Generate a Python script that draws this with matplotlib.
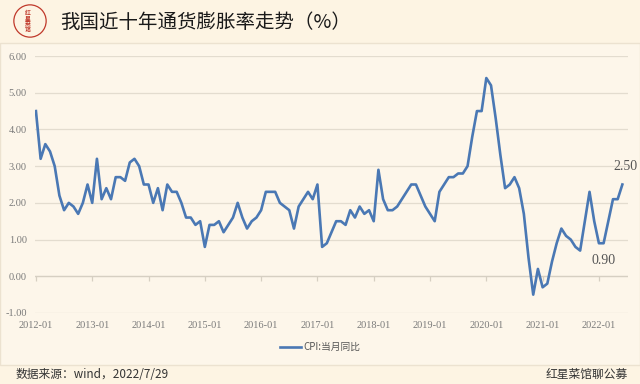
import matplotlib.pyplot as plt
from matplotlib.patches import Rectangle, Circle

plt.rcParams['font.family'] = ['Noto Sans CJK SC', 'DejaVu Sans']

# CPI 当月同比 2012-01 ~ 2022-06
cpi_2012 = [4.5, 3.2, 3.6, 3.4, 3.0, 2.2, 1.8, 2.0, 1.9, 1.7, 2.0, 2.5]
cpi_2013 = [2.0, 3.2, 2.1, 2.4, 2.1, 2.7, 2.7, 2.6, 3.1, 3.2, 3.0, 2.5]
cpi_2014 = [2.5, 2.0, 2.4, 1.8, 2.5, 2.3, 2.3, 2.0, 1.6, 1.6, 1.4, 1.5]
cpi_2015 = [0.8, 1.4, 1.4, 1.5, 1.2, 1.4, 1.6, 2.0, 1.6, 1.3, 1.5, 1.6]
cpi_2016 = [1.8, 2.3, 2.3, 2.3, 2.0, 1.9, 1.8, 1.3, 1.9, 2.1, 2.3, 2.1]
cpi_2017 = [2.5, 0.8, 0.9, 1.2, 1.5, 1.5, 1.4, 1.8, 1.6, 1.9, 1.7, 1.8]
cpi_2018 = [1.5, 2.9, 2.1, 1.8, 1.8, 1.9, 2.1, 2.3, 2.5, 2.5, 2.2, 1.9]
cpi_2019 = [1.7, 1.5, 2.3, 2.5, 2.7, 2.7, 2.8, 2.8, 3.0, 3.8, 4.5, 4.5]
cpi_2020 = [5.4, 5.2, 4.3, 3.3, 2.4, 2.5, 2.7, 2.4, 1.7, 0.5, -0.5, 0.2]
cpi_2021 = [-0.3, -0.2, 0.4, 0.9, 1.3, 1.1, 1.0, 0.8, 0.7, 1.5, 2.3, 1.5]
cpi_2022 = [0.9, 0.9, 1.5, 2.1, 2.1, 2.5]

cpi = (cpi_2012 + cpi_2013 + cpi_2014 + cpi_2015 + cpi_2016 + cpi_2017
       + cpi_2018 + cpi_2019 + cpi_2020 + cpi_2021 + cpi_2022)
months = list(range(len(cpi)))
tick_labels = [f'{y}-01' for y in range(2012, 2023)]
tick_pos = [12 * i for i in range(len(tick_labels))]

bg = '#fdf4e3'
panel = '#fdf6ea'
line_c = '#4a78b4'
grey = '#7a7a7a'

W, H = 640, 384
fig = plt.figure(figsize=(6.4, 3.84), dpi=100, facecolor=bg)

# 中间图表面板
fig.patches.append(Rectangle((0, 1 - 365 / H), 1, (365 - 43) / H, transform=fig.transFigure,
                             facecolor=panel, edgecolor='#ece2d0', lw=1, zorder=-5))

# 标题 + logo
lax = fig.add_axes([10 / W, 1 - 40 / H, 40 / W, 38 / H])
lax.set_xlim(-1, 1); lax.set_ylim(-1, 1); lax.set_aspect('equal'); lax.axis('off')
lax.add_patch(Circle((0, 0), 0.85, fill=False, ec='#c0392b', lw=0.9))
lax.text(-0.12, 0, '红\n星\n菜\n馆', color='#c0392b', fontsize=4.2, ha='center', va='center',
         fontweight='bold', linespacing=0.9)
fig.text(60 / W, 1 - 22 / H, '我国近十年通货膨胀率走势（%）', fontsize=14, va='center',
         ha='left', color='#1a1a1a')

# 主图
ax = fig.add_axes([35 / W, 1 - 313 / H, (628 - 35) / W, (313 - 56) / H])
ax.set_zorder(2)
ax.set_facecolor('none')
ax.plot(months, cpi, color=line_c, lw=1.9, zorder=3, label='CPI:当月同比')
ax.set_xlim(-0.2, 126.2)
ax.set_ylim(-1, 6)
ax.set_yticks(range(-1, 7))
ax.set_yticklabels([f'{v:.2f}' for v in range(-1, 7)], fontsize=7.5, color=grey,
                   family='Liberation Serif')
ax.grid(axis='y', color='#e3dccf', lw=0.9)
ax.set_axisbelow(True)
ax.axhline(0, color='#d6cfc2', lw=0.9, zorder=1)
ax.vlines(tick_pos, -0.12, 0, color='#d6cfc2', lw=0.9)
ax.set_xticks(tick_pos)
ax.set_xticklabels(tick_labels, fontsize=7.5, color=grey, family='Liberation Serif')
ax.tick_params(length=0, pad=6)
for s in ax.spines.values():
    s.set_visible(False)

ax.annotate(f'{cpi[-1]:.2f}', (months[-1], cpi[-1]), xytext=(2, 8), textcoords='offset points',
            ha='center', va='bottom', fontsize=10, color='#555555', family='Liberation Serif')
ax.annotate(f'{cpi_2022[0]:.2f}', (months[120], cpi_2022[0]), xytext=(3, -8),
            textcoords='offset points', ha='center', va='top', fontsize=10, color='#555555',
            family='Liberation Serif')

fig.legend(loc='center', bbox_to_anchor=(0.5, 1 - 347 / H), frameon=False, fontsize=7,
           handlelength=2.2, handletextpad=0.2, labelcolor='#555555')

# 底部
fig.text(16 / W, 1 - 374 / H, '数据来源：wind，2022/7/29', fontsize=8.5, va='center',
         color='#333333')
fig.text(628 / W, 1 - 374 / H, '红星菜馆聊公募', fontsize=8.5, va='center', ha='right',
         color='#333333')

fig.savefig('out.png', dpi=100, facecolor=bg)
